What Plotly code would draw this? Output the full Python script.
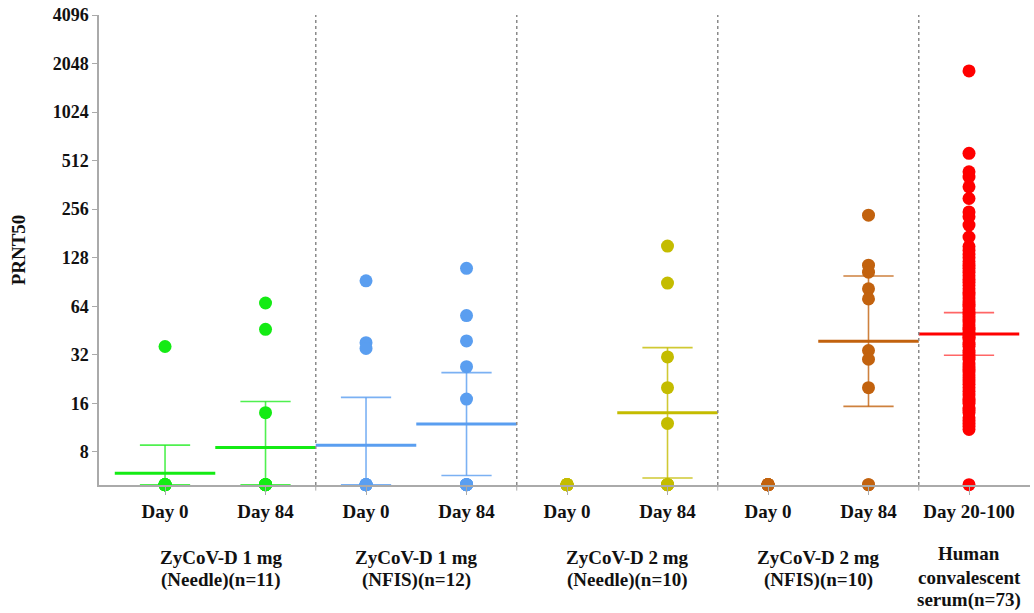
import math
import plotly.graph_objects as go

# ---------------- data ----------------
categories = ["Day 0", "Day 84", "Day 0", "Day 84", "Day 0", "Day 84", "Day 0", "Day 84", "Day 20-100"]
group_labels = [
    ["ZyCoV-D 1 mg", "(Needle)(n=11)"],
    ["ZyCoV-D 1 mg", "(NFIS)(n=12)"],
    ["ZyCoV-D 2 mg", "(Needle)(n=10)"],
    ["ZyCoV-D 2 mg", "(NFIS)(n=10)"],
    ["Human", "convalescent", "serum(n=73)"],
]
group_label_x = [0.56, 2.5, 4.6, 6.5, 8.0]

g1_day0 = [36, 5, 5, 5, 5, 5, 5, 5, 5, 5, 5]
g1_day84 = [67, 46, 14, 5, 5, 5, 5, 5, 5, 5, 5]
g2_day0 = [92, 38, 35, 5, 5, 5, 5, 5, 5, 5, 5, 5]
g2_day84 = [110, 56, 39, 27, 17, 5, 5, 5, 5, 5, 5, 5]
g3_day0 = [5, 5, 5, 5, 5, 5, 5, 5, 5, 5]
g3_day84 = [151, 89, 31, 20, 12, 5, 5, 5, 5, 5]
g4_day0 = [5, 5, 5, 5, 5, 5, 5, 5, 5, 5]
g4_day84 = [235, 115, 104, 82, 71, 34, 30, 20, 5, 5]
convalescent = [1843, 568, 436, 405, 352, 298, 246, 230, 204, 172,
                150, 142, 135, 128, 121, 115, 110, 104, 99, 94,
                90, 86, 82, 78, 75, 72, 69, 66, 64, 61,
                59, 57, 55, 53, 51, 49, 47, 46, 44, 42,
                41, 40, 38, 37, 36, 34, 33, 32, 31, 30,
                28, 27, 26, 25, 24, 23, 22, 21, 20, 19,
                18, 17, 16.5, 16, 15, 14.5, 14, 13, 12.5, 12,
                11.5, 11, 5]

series = [g1_day0, g1_day84, g2_day0, g2_day84, g3_day0, g3_day84, g4_day0, g4_day84, convalescent]

gmt = [5.9, 8.5, 8.8, 11.9, None, 14.0, None, 38.8, 43.0]
ci_upper = [8.8, 16.4, 17.4, 24.8, None, 35.4, None, 98.5, 58.4]
ci_lower = [5.0, 5.0, 5.0, 5.7, None, 5.5, None, 15.3, 31.8]

y_ticks = [8, 16, 32, 64, 128, 256, 512, 1024, 2048, 4096]

green, blue, olive, brown, red = "#14EB14", "#5A9EF0", "#C4BC00", "#C2620E", "#FF0000"
colors = [green, green, blue, blue, olive, olive, brown, brown, red]
light = {
    green: "rgba(20,235,20,0.75)",
    blue: "rgba(90,158,240,0.8)",
    olive: "rgba(196,188,0,0.8)",
    brown: "rgba(194,98,14,0.8)",
    red: "rgba(255,0,0,0.6)",
}
separators = [1.5, 3.5, 5.5, 7.5]

FONT = "Liberation Serif"
W, H = 1034, 613
M_L, M_R, M_T, M_B = 99, 4, 15, 128
plot_h = H - M_T - M_B


def paper_y(py):
    return (H - M_B - py) / plot_h


fig = go.Figure()

# error bars and mean lines
for i, (m, up, lo) in enumerate(zip(gmt, ci_upper, ci_lower)):
    if m is None:
        continue
    c = colors[i]
    fig.add_trace(go.Scatter(
        x=[i, i, None, i - 0.25, i + 0.25, None, i - 0.25, i + 0.25],
        y=[lo, up, None, up, up, None, lo, lo],
        mode="lines", line=dict(color=light[c], width=1.6),
        cliponaxis=False, showlegend=False, hoverinfo="skip"))
    fig.add_trace(go.Scatter(
        x=[i - 0.5, i + 0.5], y=[m, m],
        mode="lines", line=dict(color=c, width=3),
        cliponaxis=False, showlegend=False, hoverinfo="skip"))

# points
for i, vals in enumerate(series):
    fig.add_trace(go.Scatter(
        x=[i] * len(vals), y=vals, mode="markers",
        marker=dict(color=colors[i], size=13, line=dict(width=0)),
        cliponaxis=False, showlegend=False))

# dashed separators
for s in separators:
    fig.add_shape(type="line", x0=s, x1=s, y0=0, y1=1, xref="x", yref="paper",
                  line=dict(color="#8a8a8a", width=1.5, dash="dot"))
    fig.add_shape(type="line", x0=s, x1=s, y0=0, y1=-0.012, xref="x", yref="paper",
                  line=dict(color="#aaaaaa", width=1))

# group labels (line by line)
for gx, lines in zip(group_label_x, group_labels):
    rows = [557, 580] if len(lines) == 2 else [553, 577, 600]
    for txt, py in zip(lines, rows):
        fig.add_annotation(x=gx, y=paper_y(py), xref="x", yref="paper", text="<b>" + txt + "</b>",
                           showarrow=False, yanchor="middle", xanchor="center",
                           font=dict(family=FONT, size=19, color="#111"))

fig.update_layout(
    width=W, height=H,
    margin=dict(l=M_L, r=M_R, t=M_T, b=M_B),
    paper_bgcolor="white", plot_bgcolor="white",
    font=dict(family=FONT, size=19, color="#111"),
    xaxis=dict(
        range=[-0.657, 8.607], tickvals=list(range(len(categories))),
        ticktext=["<b>" + c + "</b>" for c in categories],
        showline=True, linecolor="#aaaaaa", linewidth=1.5,
        ticks="outside", ticklen=8, tickcolor="#aaaaaa",
        showgrid=False, zeroline=False,
        tickfont=dict(family=FONT, size=19, color="#111"),
    ),
    yaxis=dict(
        type="log", range=[math.log10(4.98), math.log10(4096)],
        tickvals=y_ticks, ticktext=["<b>%d</b>" % t for t in y_ticks],
        showline=True, linecolor="#aaaaaa", linewidth=1.5,
        ticks="outside", ticklen=5, tickcolor="#aaaaaa",
        showgrid=False, zeroline=False,
        tickfont=dict(family=FONT, size=18, color="#111"),
        title=dict(text="<b>PRNT50</b>", font=dict(family=FONT, size=19, color="#111"), standoff=22),
    ),
)

fig.write_html("out.html")
